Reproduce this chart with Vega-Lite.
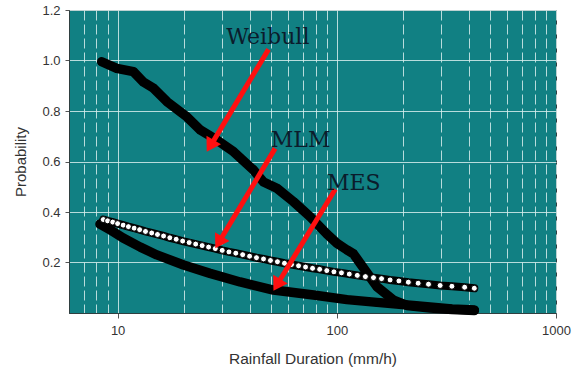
{
  "$schema": "https://vega.github.io/schema/vega-lite/v6.json",
  "width": 487,
  "height": 303,
  "autosize": {"type": "none"},
  "padding": {"left": 69, "top": 10, "right": 23, "bottom": 59},
  "background": "white",
  "config": {
    "view": {"fill": "#118083", "stroke": "#2f3f40", "strokeWidth": 1},
    "font": "Liberation Sans"
  },
  "datasets": {
    "curves": [
      {"series": "Weibull", "x": 8.46, "y": 0.995},
      {"series": "Weibull", "x": 9.91, "y": 0.969},
      {"series": "Weibull", "x": 11.8, "y": 0.956},
      {"series": "Weibull", "x": 13.1, "y": 0.915},
      {"series": "Weibull", "x": 14.6, "y": 0.89},
      {"series": "Weibull", "x": 16.8, "y": 0.837},
      {"series": "Weibull", "x": 19.3, "y": 0.797},
      {"series": "Weibull", "x": 20.7, "y": 0.777},
      {"series": "Weibull", "x": 23.8, "y": 0.725},
      {"series": "Weibull", "x": 28.4, "y": 0.685},
      {"series": "Weibull", "x": 33.8, "y": 0.639},
      {"series": "Weibull", "x": 41.7, "y": 0.566},
      {"series": "Weibull", "x": 46.3, "y": 0.519},
      {"series": "Weibull", "x": 53.3, "y": 0.494},
      {"series": "Weibull", "x": 63.4, "y": 0.441},
      {"series": "Weibull", "x": 75.6, "y": 0.381},
      {"series": "Weibull", "x": 90.1, "y": 0.313},
      {"series": "Weibull", "x": 100.1, "y": 0.276},
      {"series": "Weibull", "x": 111.2, "y": 0.25},
      {"series": "Weibull", "x": 119.2, "y": 0.234},
      {"series": "Weibull", "x": 132.4, "y": 0.178},
      {"series": "Weibull", "x": 152.5, "y": 0.104},
      {"series": "Weibull", "x": 181.6, "y": 0.051},
      {"series": "Weibull", "x": 209, "y": 0.03},
      {"series": "Weibull", "x": 267, "y": 0.02},
      {"series": "Weibull", "x": 335.5, "y": 0.014},
      {"series": "Weibull", "x": 379, "y": 0.012},
      {"series": "Weibull", "x": 424, "y": 0.01},
      {"series": "MES", "x": 8.31, "y": 0.352},
      {"series": "MES", "x": 9.43, "y": 0.325},
      {"series": "MES", "x": 10.6, "y": 0.297},
      {"series": "MES", "x": 12.7, "y": 0.261},
      {"series": "MES", "x": 15.1, "y": 0.23},
      {"series": "MES", "x": 20.0, "y": 0.19},
      {"series": "MES", "x": 26.4, "y": 0.157},
      {"series": "MES", "x": 36.2, "y": 0.123},
      {"series": "MES", "x": 51.4, "y": 0.091},
      {"series": "MES", "x": 78.3, "y": 0.071},
      {"series": "MES", "x": 111.2, "y": 0.053},
      {"series": "MES", "x": 152.5, "y": 0.042},
      {"series": "MES", "x": 223.4, "y": 0.03},
      {"series": "MES", "x": 335.5, "y": 0.016},
      {"series": "MES", "x": 379, "y": 0.014},
      {"series": "MES", "x": 424, "y": 0.012}
    ],
    "mlm": [
      {"x": 8.6, "y": 0.37}, {"x": 9.0, "y": 0.365}, {"x": 9.5, "y": 0.36}, {"x": 10.0, "y": 0.354},
      {"x": 10.6, "y": 0.348}, {"x": 11.2, "y": 0.342}, {"x": 11.9, "y": 0.336}, {"x": 12.6, "y": 0.33},
      {"x": 13.4, "y": 0.323}, {"x": 14.3, "y": 0.317}, {"x": 15.2, "y": 0.311}, {"x": 16.2, "y": 0.305},
      {"x": 17.3, "y": 0.298}, {"x": 18.5, "y": 0.292}, {"x": 19.8, "y": 0.285}, {"x": 21.2, "y": 0.279},
      {"x": 22.7, "y": 0.273}, {"x": 24.3, "y": 0.267}, {"x": 26.0, "y": 0.261}, {"x": 27.9, "y": 0.255},
      {"x": 30.0, "y": 0.248}, {"x": 32.2, "y": 0.242}, {"x": 34.6, "y": 0.237}, {"x": 37.2, "y": 0.231},
      {"x": 40.0, "y": 0.225}, {"x": 43.0, "y": 0.219}, {"x": 46.3, "y": 0.214}, {"x": 49.8, "y": 0.208},
      {"x": 53.6, "y": 0.203}, {"x": 57.7, "y": 0.197}, {"x": 62.1, "y": 0.192}, {"x": 66.9, "y": 0.187},
      {"x": 72.0, "y": 0.182}, {"x": 77.5, "y": 0.177}, {"x": 83.5, "y": 0.173}, {"x": 90.0, "y": 0.168},
      {"x": 97.0, "y": 0.163}, {"x": 105, "y": 0.159}, {"x": 114, "y": 0.154}, {"x": 124, "y": 0.149},
      {"x": 135, "y": 0.144}, {"x": 147, "y": 0.14}, {"x": 160, "y": 0.136}, {"x": 175, "y": 0.131},
      {"x": 192, "y": 0.127}, {"x": 212, "y": 0.122}, {"x": 235, "y": 0.118}, {"x": 262, "y": 0.114},
      {"x": 296, "y": 0.109}, {"x": 335, "y": 0.106}, {"x": 383, "y": 0.102}, {"x": 424, "y": 0.098}
    ],
    "arrows": [
      {"label": "Weibull", "x": 48.8, "y": 1.044, "x2": 26.4, "y2": 0.659},
      {"label": "MLM", "x": 52.3, "y": 0.652, "x2": 28.8, "y2": 0.276},
      {"label": "MES", "x": 98.4, "y": 0.49, "x2": 53.1, "y2": 0.109}
    ],
    "heads": [
      {"label": "Weibull", "x": 25.5, "y": 0.639},
      {"label": "MLM", "x": 27.9, "y": 0.256},
      {"label": "MES", "x": 51.4, "y": 0.088}
    ],
    "labels": [
      {"label": "Weibull", "x": 31.3, "y": 1.065},
      {"label": "MLM", "x": 50.0, "y": 0.659},
      {"label": "MES", "x": 90.1, "y": 0.487}
    ]
  },
  "encoding": {
    "x": {
      "field": "x", "type": "quantitative",
      "scale": {"type": "log", "domain": [6, 1000], "nice": false},
      "axis": {
        "values": [7, 8, 9, 10, 20, 30, 40, 50, 60, 70, 80, 90, 100, 200, 300, 400, 500, 600, 700, 800, 900, 1000],
        "format": "d",
        "labelExpr": "(datum.value == 10 || datum.value == 100 || datum.value == 1000) ? datum.label : ''",
        "tickOpacity": {"condition": {"test": "datum.value == 10 || datum.value == 100 || datum.value == 1000", "value": 1}, "value": 0},
        "grid": true,
        "gridDash": {"condition": {"test": "datum.value == 10 || datum.value == 100", "value": []}, "value": [10, 4]},
        "gridColor": "#d6ecec",
        "gridOpacity": 0.85,
        "gridWidth": 1,
        "domain": true,
        "domainColor": "#2f3f40",
        "tickColor": "#555555",
        "tickSize": 5,
        "labelPadding": 6,
        "labelFontSize": 13,
        "labelColor": "#333333",
        "labelFlush": false,
        "labelOverlap": false,
        "title": "Rainfall Duration (mm/h)",
        "titleFontSize": 15.5,
        "titleFontWeight": "normal",
        "titleColor": "#333333",
        "titlePadding": 14
      }
    },
    "y": {
      "field": "y", "type": "quantitative",
      "scale": {"domain": [0, 1.2], "nice": false},
      "axis": {
        "values": [0.2, 0.4, 0.6, 0.8, 1.0, 1.2],
        "format": ".1f",
        "grid": true,
        "gridColor": "#d6ecec",
        "gridOpacity": 0.85,
        "domain": true,
        "domainColor": "#2f3f40",
        "tickColor": "#555555",
        "tickSize": 4,
        "labelPadding": 5,
        "labelFontSize": 13,
        "labelColor": "#333333",
        "title": "Probability",
        "titleFontSize": 15,
        "titleFontWeight": "normal",
        "titleColor": "#333333",
        "titlePadding": 13
      }
    }
  },
  "layer": [
    {
      "data": {"name": "curves"},
      "mark": {"type": "line", "color": "black", "strokeWidth": 9.5, "strokeCap": "round", "strokeJoin": "round"},
      "encoding": {"detail": {"field": "series", "type": "nominal"}}
    },
    {
      "data": {"name": "curves"},
      "mark": {"type": "point", "filled": true, "color": "black", "size": 64, "opacity": 1}
    },
    {
      "data": {"name": "mlm"},
      "mark": {"type": "line", "color": "black", "strokeWidth": 8, "strokeCap": "round"}
    },
    {
      "data": {"name": "mlm"},
      "mark": {"type": "point", "filled": true, "fill": "white", "stroke": "black", "strokeWidth": 1, "size": 36, "opacity": 1}
    },
    {
      "data": {"name": "arrows"},
      "mark": {"type": "rule", "color": "#ff1010", "strokeWidth": 5},
      "encoding": {
        "x2": {"field": "x2"},
        "y2": {"field": "y2"}
      }
    },
    {
      "data": {"name": "heads"},
      "mark": {"type": "point", "shape": "M0,0L-1.06,1.7L1.06,1.7Z", "angle": 211, "size": 256, "filled": true, "color": "#ff1010", "opacity": 1}
    },
    {
      "data": {"name": "labels"},
      "mark": {"type": "text", "font": "DejaVu Serif", "fontSize": 22, "color": "#0b1c2c", "align": "left", "baseline": "alphabetic"},
      "encoding": {"text": {"field": "label"}}
    }
  ]
}
